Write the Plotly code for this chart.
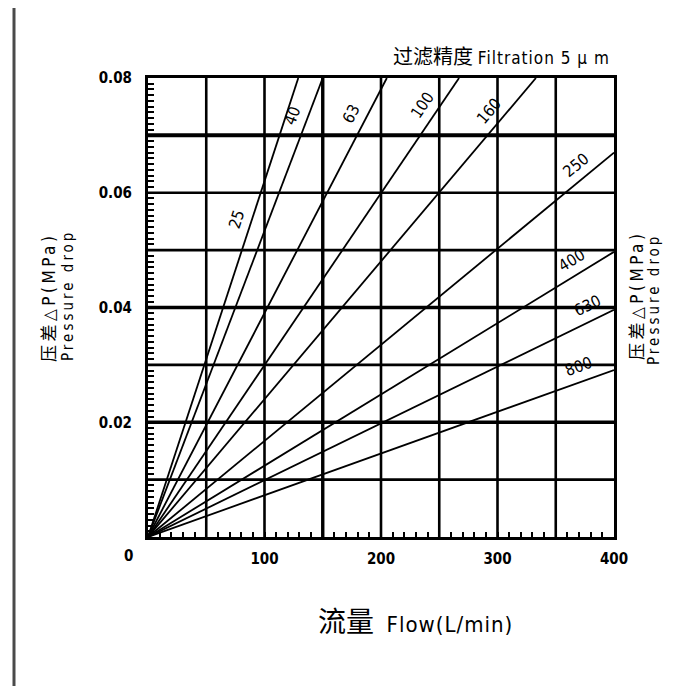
import math
import plotly.graph_objects as go

# Filtration grades (μm) and where each pressure-drop line leaves the chart
grades = [25, 40, 63, 100, 160, 250, 400, 630, 800]
end_flow = [129, 150, 205, 267, 333, 400, 400, 400, 400]          # L/min
end_dp = [0.08, 0.08, 0.08, 0.08, 0.08, 0.067, 0.0497, 0.0396, 0.0291]  # MPa

# flow position of each grade label along its line
label_flow = [88, 136, 186, 246, 302, 375, 370, 383, 374]

x_ticks = [100, 200, 300, 400]
y_ticks = [0.02, 0.04, 0.06, 0.08]

W, H = 684, 686
ML, MR, MT, MB = 148, 70, 78, 149
PW, PH = W - ML - MR, H - MT - MB
X_MAX, Y_MAX = 400, 0.08
px_x = PW / X_MAX
px_y = PH / Y_MAX

FONT = "Liberation Sans Narrow, DejaVu Sans Condensed, Noto Sans CJK SC, sans-serif"

fig = go.Figure()

for g, fx, fy in zip(grades, end_flow, end_dp):
    fig.add_trace(go.Scatter(x=[0, fx], y=[0, fy], mode="lines",
                             line=dict(color="black", width=1.8),
                             name=str(g), hoverinfo="skip", showlegend=False))

shapes = []
# vertical grid lines
for xv in range(50, 400, 50):
    shapes.append(dict(type="line", xref="x", yref="y", x0=xv, x1=xv, y0=0, y1=Y_MAX,
                       line=dict(color="black", width=3.4 if xv == 150 else 2.6), layer="below"))
# horizontal grid lines
heavy = {7: 4, 4: 3.4, 2: 3.4}
for k in range(1, 8):
    yv = k * 0.01
    shapes.append(dict(type="line", xref="x", yref="y", x0=0, x1=X_MAX, y0=yv, y1=yv,
                       line=dict(color="black", width=heavy.get(k, 2.6)), layer="below"))
# page border line on the left
shapes.append(dict(type="line", xref="paper", yref="paper",
                   x0=(14 - ML) / PW, x1=(14 - ML) / PW,
                   y0=(MT + PH - H) / PH, y1=(MT + PH - 8) / PH,
                   line=dict(color="#4a4a4a", width=3)))

annotations = []
for g, fx, fy, lx in zip(grades, end_flow, end_dp, label_flow):
    slope = fy / fx
    a = math.atan(slope * px_y / px_x)
    off = 15
    annotations.append(dict(x=lx, y=slope * lx, xref="x", yref="y", text=str(g),
                            showarrow=False, textangle=-math.degrees(a),
                            xanchor="center", yanchor="middle",
                            xshift=-off * math.sin(a), yshift=off * math.cos(a),
                            font=dict(family=FONT, size=16, color="black")))


def px(xp):
    return (xp - ML) / PW


def py(yp):
    return (MT + PH - yp) / PH


def note(x, y, text, size, angle=0, anchor="center", bold=False):
    return dict(x=px(x), y=py(y), xref="paper", yref="paper", text=text,
                showarrow=False, textangle=angle, xanchor=anchor, yanchor="middle",
                font=dict(family=FONT, size=size, color="black",
                          weight="bold" if bold else "normal"))


cn_title = '<span style="letter-spacing:3.5px">压差△P(MPa)</span>'
en_title = '<span style="letter-spacing:3px">Pressure drop</span>'
top_title = ('<span style="font-size:20px">过滤精度</span> '
             '<span style="letter-spacing:1px">Filtration 5 μ m</span>')
x_title = ('<span style="font-size:28px">流量</span>  '
           '<span style="letter-spacing:1px">Flow(L/min)</span>')

annotations += [
    note(128, 556, "0", 15, bold=True),
    note(612, 57, top_title, 17, anchor="right"),
    note(415, 622, x_title, 22),
    note(49, 298, cn_title, 17, angle=-90),
    note(68, 296, en_title, 15, angle=-90),
    note(637, 296, cn_title, 17, angle=-90),
    note(654, 300, en_title, 15, angle=-90),
]

tick_font = dict(family=FONT, size=15, color="black", weight="bold")

fig.update_layout(
    width=W, height=H,
    margin=dict(l=ML, r=MR, t=MT, b=MB, pad=0),
    paper_bgcolor="white", plot_bgcolor="white",
    shapes=shapes, annotations=annotations,
    xaxis=dict(range=[0, X_MAX], showgrid=False, zeroline=False,
               showline=True, mirror=True, linecolor="black", linewidth=3,
               tickvals=x_ticks, ticktext=[str(v) for v in x_ticks],
               ticks="inside", ticklen=5, tickwidth=1.5, tickcolor="black",
               ticklabelstandoff=6,
               minor=dict(dtick=10, ticks="inside", ticklen=5, tickwidth=1.5, tickcolor="black"),
               tickfont=tick_font),
    yaxis=dict(range=[0, Y_MAX], showgrid=False, zeroline=False,
               showline=True, mirror=True, linecolor="black", linewidth=3,
               tickvals=y_ticks, ticktext=["%.2f" % v for v in y_ticks],
               ticks="inside", ticklen=6, tickwidth=1.5, tickcolor="black",
               ticklabelstandoff=10,
               minor=dict(dtick=0.001, ticks="inside", ticklen=6, tickwidth=1.5, tickcolor="black"),
               tickfont=tick_font),
)

fig.write_html("out.html")
